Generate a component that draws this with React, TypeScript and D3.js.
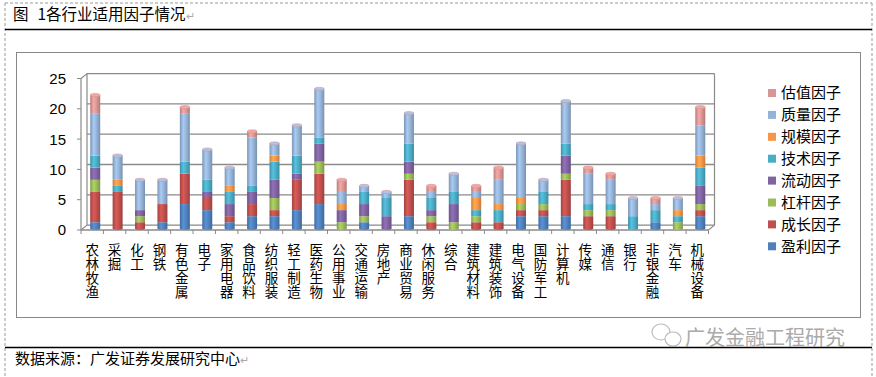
import React from "react";
import * as d3 from "d3";

const categories = ["农林牧渔","采掘","化工","钢铁","有色金属","电子","家用电器","食品饮料","纺织服装","轻工制造","医药生物","公用事业","交通运输","房地产","商业贸易","休闲服务","综合","建筑材料","建筑装饰","电气设备","国防军工","计算机","传媒","通信","银行","非银金融","汽车","机械设备"];

const seriesNames = ["盈利因子","成长因子","杠杆因子","流动因子","技术因子","规模因子","质量因子","估值因子"];
const seriesColors = ["#4F81BD","#C0504D","#9BBB59","#8064A2","#4BACC6","#F79646","#95B3D7","#D99694"];

const profit   = [1,0,0,1,4,3,1,2,2,3,4,0,1,0,2,0,0,0,0,2,2,2,0,0,0,1,0,2];
const growth   = [5,6,1,3,5,2,1,2,1,5,5,0,0,0,6,1,0,1,1,1,1,6,2,2,0,0,0,1];
const leverage = [2,0,1,0,0,0,0,0,2,0,2,1,1,0,1,1,1,1,0,1,1,1,1,1,0,0,1,1];
const liquidity= [2,0,1,0,0,1,2,2,3,1,3,2,2,2,2,1,3,0,0,0,0,3,0,0,0,0,0,3];
const technical= [2,1,0,0,2,2,2,1,3,3,1,0,2,3,3,2,2,1,2,0,2,2,1,1,2,2,1,3];
const scale    = [0,1,0,0,0,0,1,0,1,0,0,1,0,0,0,0,0,2,1,1,0,0,0,0,0,0,1,2];
const quality  = [7,4,5,4,8,5,3,8,2,5,8,2,1,1,5,1,3,1,4,9,2,7,5,4,3,1,2,5];
const valuation= [3,0,0,0,1,0,0,1,0,0,0,2,0,0,0,1,0,1,2,0,0,0,1,1,0,1,0,3];

const seriesValues = [profit, growth, leverage, liquidity, technical, scale, quality, valuation];
const yTicks = [0,5,10,15,20,25];

export default function App() {
  const W = 876, H = 377;
  const x = d3.scaleBand<string>().domain(categories).range([81, 708.5]).padding(0);
  const yBar = d3.scaleLinear().domain([0, 25]).range([228.3, 76.8]);
  const depthX = 6;
  const barW = 10;
  const font = "'Noto Sans CJK SC', 'Noto Sans', sans-serif";

  const stacks = categories.map((c, i) => {
    let acc = 0;
    const segs: { s: number; y0: number; y1: number }[] = [];
    seriesValues.forEach((arr, s) => {
      const v = arr[i];
      if (v > 0) { segs.push({ s, y0: acc, y1: acc + v }); acc += v; }
    });
    return { c, i, segs, total: acc };
  });

  const gridBack = (v: number) => yBar(v) - 3.2;
  const front = (v: number) => yBar(v) + 1.7;
  const x0 = 81, x1 = 708.5;

  return (
    <svg width={W} height={H} style={{ position: "absolute", left: 0, top: 0, fontFamily: font }}>
      <defs>
        {seriesColors.map((col, s) => {
          const c = d3.color(col)!;
          return (
            <linearGradient id={"g" + s} key={s} x1="0" x2="1" y1="0" y2="0">
              <stop offset="0%" stopColor={c.darker(0.5).toString()} />
              <stop offset="35%" stopColor={c.brighter(0.35).toString()} />
              <stop offset="65%" stopColor={col} />
              <stop offset="100%" stopColor={c.darker(0.6).toString()} />
            </linearGradient>
          );
        })}
      </defs>
      <rect x={0} y={0} width={W} height={H} fill="#fff" />
      {/* dashed page border */}
      <line x1={5} y1={3} x2={5} y2={H} stroke="#999" strokeDasharray="3,2" />
      <line x1={872} y1={3} x2={872} y2={H} stroke="#999" strokeDasharray="3,2" />
      <line x1={5} y1={3} x2={872} y2={3} stroke="#999" strokeDasharray="3,2" />
      {/* title */}
      <text x={13} y={20} fontSize={15.5} fill="#000">图<tspan dx={9}>1各行业适用因子情况</tspan><tspan fill="#aaa" fontSize={11}>↵</tspan></text>
      <line x1={5} y1={29.5} x2={872} y2={29.5} stroke="#000" strokeWidth={1.5} />
      {/* chart frame */}
      <rect x={16.5} y={52.5} width={844} height={265} fill="none" stroke="#888" strokeWidth={1} />

      {/* back wall gridlines */}
      {yTicks.map(v => (
        <line key={"gl" + v} x1={x0 + depthX} x2={x1 + depthX} y1={gridBack(v)} y2={gridBack(v)} stroke="#8a8a8a" strokeWidth={1.3} />
      ))}
      <line x1={x0 + depthX} x2={x0 + depthX} y1={gridBack(0)} y2={gridBack(25)} stroke="#8a8a8a" strokeWidth={1.2} />
      <line x1={x1 + depthX} x2={x1 + depthX} y1={gridBack(0)} y2={gridBack(25)} stroke="#8a8a8a" strokeWidth={1.2} />
      {/* floor */}
      <line x1={x0} x2={x1} y1={front(0)} y2={front(0)} stroke="#8a8a8a" strokeWidth={1.3} />
      <line x1={x1} x2={x1 + depthX} y1={front(0)} y2={gridBack(0)} stroke="#8a8a8a" strokeWidth={1.2} />
      <line x1={x0} x2={x0 + depthX} y1={front(0)} y2={gridBack(0)} stroke="#8a8a8a" strokeWidth={1.2} />
      <line x1={x0} x2={x0 + depthX} y1={front(25)} y2={gridBack(25)} stroke="#8a8a8a" strokeWidth={1.2} />
      {/* front value axis */}
      <line x1={x0} x2={x0} y1={front(0)} y2={front(25)} stroke="#8a8a8a" strokeWidth={1.2} />
      {yTicks.map(v => (
        <g key={"yt" + v}>
          <line x1={x0 - 4} x2={x0} y1={front(v)} y2={front(v)} stroke="#8a8a8a" />
          <text x={66} y={front(v)} dy="0.36em" textAnchor="end" fontSize={15} fontFamily="'Liberation Sans', Arial, sans-serif" fill="#000">{v}</text>
        </g>
      ))}
      {/* category ticks */}
      {categories.map((c, i) => (
        <line key={"xt" + i} x1={x(c)!} x2={x(c)!} y1={front(0)} y2={front(0) + 4} stroke="#8a8a8a" />
      ))}
      <line x1={x1} x2={x1} y1={front(0)} y2={front(0) + 4} stroke="#8a8a8a" />

      {/* bars */}
      {stacks.map(({ c, i, segs }) => {
        const cx = x(c)! + x.bandwidth() / 2 + 3;
        const left = cx - barW / 2;
        if (segs.length === 0) return null;
        const top = segs[segs.length - 1];
        const bottom = segs[0];
        return (
          <g key={"b" + i}>
            {segs.map((sg, k) => (
              <rect key={k} x={left} width={barW} y={yBar(sg.y1)} height={yBar(sg.y0) - yBar(sg.y1)} fill={`url(#g${sg.s})`} />
            ))}
            <ellipse cx={cx} cy={yBar(bottom.y0)} rx={barW / 2} ry={1.6} fill={`url(#g${bottom.s})`} />
            <ellipse cx={cx} cy={yBar(top.y1)} rx={barW / 2} ry={1.6} fill={d3.color(seriesColors[top.s])!.brighter(0.3).toString()} stroke={seriesColors[7]} strokeWidth={0.6} />
          </g>
        );
      })}

      {/* category labels, vertical */}
      {categories.map((c, i) => {
        const cx = x(c)! + x.bandwidth() / 2;
        return (
          <text key={"cl" + i} x={cx} y={243} fontSize={13.5} fill="#000"
            style={{ writingMode: "vertical-rl", textOrientation: "upright", letterSpacing: "0.7px" } as any}>
            {c}
          </text>
        );
      })}

      {/* legend */}
      {seriesNames.slice().reverse().map((name, k) => {
        const s = seriesNames.length - 1 - k;
        const cy = 93 + k * 21.9;
        return (
          <g key={"lg" + k}>
            <rect x={768} y={cy - 4} width={8} height={8} fill={seriesColors[s]} />
            <text x={781} y={cy} dy="0.36em" fontSize={15} fill="#000">{name}</text>
          </g>
        );
      })}

      {/* watermark */}
      <g stroke="#bbb" fill="none" strokeWidth={1.2}>
        <ellipse cx={661} cy={332} rx={9} ry={8} />
        <ellipse cx={673} cy={339} rx={8} ry={7} fill="#fff" />
      </g>
      <text x={685} y={345} fontSize={20} fill="#aaa">广发金融工程研究</text>

      {/* source */}
      <line x1={5} y1={347.5} x2={872} y2={347.5} stroke="#000" strokeWidth={1.5} />
      <text x={15} y={364} fontSize={15} fill="#000">数据来源：广发证券发展研究中心<tspan fill="#aaa" fontSize={11}>↵</tspan></text>
    </svg>
  );
}
